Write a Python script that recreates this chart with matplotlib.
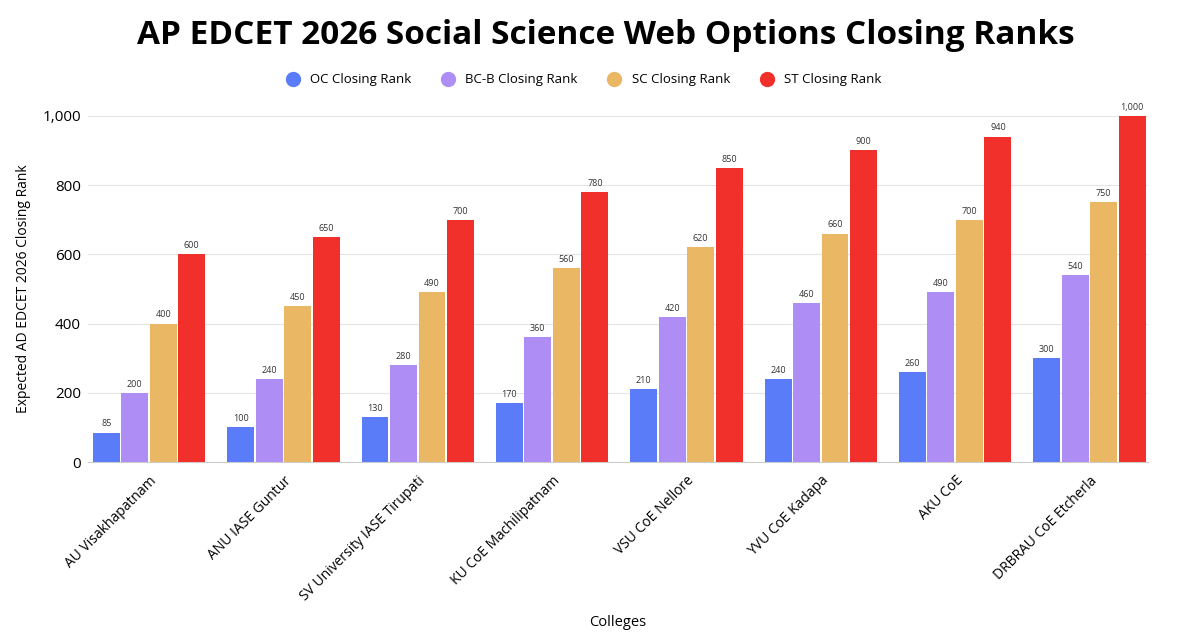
import numpy as np
import matplotlib
matplotlib.use("Agg")
import matplotlib.pyplot as plt
from matplotlib.lines import Line2D

colleges = ["AU Visakhapatnam", "ANU IASE Guntur", "SV University IASE Tirupati",
            "KU CoE Machilipatnam", "VSU CoE Nellore", "YVU CoE Kadapa",
            "AKU CoE", "DRBRAU CoE Etcherla"]
oc = [85, 100, 130, 170, 210, 240, 260, 300]
bcb = [200, 240, 280, 360, 420, 460, 490, 540]
sc = [400, 450, 490, 560, 620, 660, 700, 750]
st = [600, 650, 700, 780, 850, 900, 940, 1000]

series = ["OC Closing Rank", "BC-B Closing Rank", "SC Closing Rank", "ST Closing Rank"]
colors = ["#5A7CF8", "#AE8DF5", "#EAB865", "#F2302B"]

plt.rcParams['font.family'] = ['Open Sans', 'DejaVu Sans']

fig = plt.figure(figsize=(11.87, 6.4), dpi=100)
ax = fig.add_axes([0.0741, 0.278, 0.893, 0.541])

x = np.arange(len(colleges))
w = 0.2
step = 0.212
for i, (vals, c, name) in enumerate(zip([oc, bcb, sc, st], colors, series)):
    pos = x + (i - 1.5) * step
    bars = ax.bar(pos, vals, width=w, color=c, label=name, zorder=3)
    for b, v in zip(bars, vals):
        ax.text(b.get_x() + b.get_width() / 2, v + 12, f"{v:,}",
                ha='center', va='bottom', fontsize=6.5, color='#333333')

ax.set_xlim(-0.455, len(colleges) - 0.565)
ax.set_ylim(0, 1000)
ax.set_yticks([0, 200, 400, 600, 800, 1000])
ax.set_yticklabels(["0", "200", "400", "600", "800", "1,000"], fontsize=11)
ax.set_xticks(x)
ax.set_xticklabels(colleges, rotation=45, ha='right', rotation_mode='anchor', fontsize=10)
ax.tick_params(axis='x', length=0, pad=8)
ax.tick_params(axis='y', length=0, pad=5)
ax.grid(axis='y', color='#e4e4e4', linewidth=0.8, zorder=0)
for s in ['top', 'right', 'left']:
    ax.spines[s].set_visible(False)
ax.spines['bottom'].set_color('#cccccc')

ax.set_ylabel("Expected AD EDCET 2026 Closing Rank", fontsize=10, labelpad=8)
ax.set_xlabel("Colleges", fontsize=10.5, labelpad=8)

handles = [Line2D([0], [0], marker='o', linestyle='', markersize=10,
                  markerfacecolor=c, markeredgecolor=c) for c in colors]
fig.legend(handles, series, loc='center', bbox_to_anchor=(0.489, 0.875), ncol=4,
           frameon=False, fontsize=9.5, handletextpad=0.3, columnspacing=1.8)

fig.suptitle("AP EDCET 2026 Social Science Web Options Closing Ranks",
             fontsize=24, fontweight='bold', x=0.51, y=0.97)

fig.savefig("out.png", dpi=100)
